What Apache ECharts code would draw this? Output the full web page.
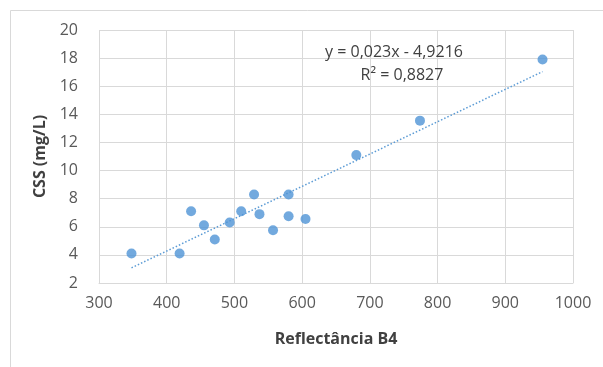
<!DOCTYPE html>
<html>
<head>
<meta charset="utf-8">
<script src="https://cdn.jsdelivr.net/npm/echarts@6/dist/echarts.min.js"></script>
<style>html,body{margin:0;padding:0;background:#fff}#c{width:603px;height:367px}</style>
</head>
<body>
<div id="c"></div>
<script>
const reflectance = [348, 419, 436, 455, 471, 493, 510, 529, 537, 557, 580, 580, 605, 680, 774, 955];
const css = [4.1, 4.1, 7.1, 6.1, 5.1, 6.3, 7.1, 8.3, 6.9, 5.75, 8.3, 6.75, 6.55, 11.1, 13.55, 17.9];
const trendX = [348, 955];
const trendY = [3.08, 17.04];
const xTitle = 'Reflectância B4';
const yTitle = 'CSS (mg/L)';
const eqLine1 = 'y = 0,023x - 4,9216';
const eqLine2 = 'R² = 0,8827';

const chart = echarts.init(document.getElementById('c'), null, {renderer: 'canvas'});
const font = 'Open Sans';
chart.setOption({
  animation: false,
  backgroundColor: '#fff',
  grid: {left: 99, right: 30, top: 30, bottom: 84, containLabel: false},
  xAxis: {
    type: 'value', min: 300, max: 1000, interval: 100,
    name: xTitle, nameLocation: 'middle', nameGap: 48,
    nameTextStyle: {fontFamily: font, fontSize: 16, fontWeight: 'bold', color: '#404040'},
    axisLine: {show: true, lineStyle: {color: '#d9d9d9'}},
    axisTick: {show: false},
    axisLabel: {fontFamily: font, fontSize: 16, color: '#595959', margin: 12, formatter: v => String(v)},
    splitLine: {show: true, lineStyle: {color: '#d9d9d9'}}
  },
  yAxis: {
    type: 'value', min: 2, max: 20, interval: 2,
    name: yTitle, nameLocation: 'middle', nameGap: 47,
    nameTextStyle: {fontFamily: font, fontSize: 16, fontWeight: 'bold', color: '#404040'},
    axisLine: {show: false},
    axisTick: {show: false},
    axisLabel: {fontFamily: font, fontSize: 16, color: '#595959', margin: 21, formatter: v => String(v)},
    splitLine: {show: true, lineStyle: {color: '#d9d9d9'}}
  },
  graphic: [
    {type: 'rect', shape: {x: 10.5, y: 10.5, width: 620, height: 400}, style: {fill: 'none', stroke: '#d9d9d9', lineWidth: 1}, silent: true, z: -1},
    {type: 'text', x: 394, y: 52, style: {text: eqLine1, font: '16px "Open Sans"', fill: '#404040', textAlign: 'center', textVerticalAlign: 'middle'}, z: 10},
    {type: 'text', x: 402, y: 75, style: {text: eqLine2, font: '16px "Open Sans"', fill: '#404040', textAlign: 'center', textVerticalAlign: 'middle'}, z: 10}
  ],
  series: [
    {
      type: 'line',
      data: trendX.map((x, i) => [x, trendY[i]]),
      symbol: 'none',
      lineStyle: {color: '#5b9bd5', width: 1.5, type: [1.5, 2]},
      z: 1
    },
    {
      type: 'scatter',
      data: reflectance.map((x, i) => [x, css[i]]),
      symbolSize: 10,
      itemStyle: {color: '#4f93d6'},
      z: 2
    }
  ]
});
</script>
</body>
</html>
